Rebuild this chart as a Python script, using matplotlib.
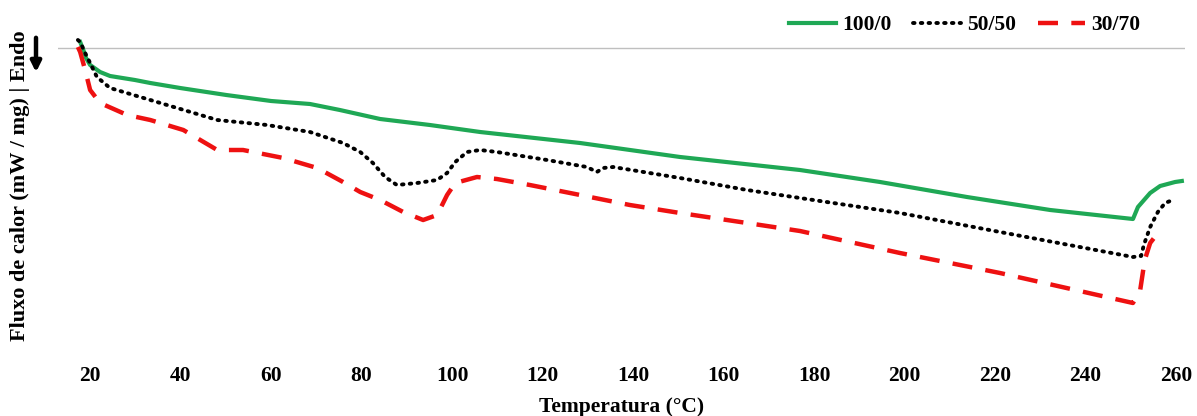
import numpy as np
import matplotlib.pyplot as plt

plt.rcParams['font.family'] = ['Liberation Serif', 'DejaVu Serif']
plt.rcParams['font.weight'] = 'bold'

# -----------------------------
# DSC curves
# -----------------------------
t_100 = [17.8, 18.5, 19.1, 20.0, 22.2, 24.4, 29.9, 33.3, 39.9, 50.1, 60.0, 68.6,
         75.2, 84.1, 95.1, 106.2, 128.3, 150.4, 176.9, 194.6, 213.8, 232.2,
         250.5, 251.6, 254.3, 256.5, 259.8, 261.3]
q_100 = [0.06, -0.02, -0.10, -0.17, -0.24, -0.28, -0.32, -0.35, -0.40, -0.47, -0.53, -0.56,
         -0.62, -0.71, -0.77, -0.84, -0.95, -1.09, -1.22, -1.34, -1.49, -1.62,
         -1.71, -1.59, -1.45, -1.38, -1.34, -1.33]

t_50 = [17.3, 17.8, 18.9, 20.0, 21.5, 24.4, 33.3, 48.1, 59.1, 68.6, 75.9, 79.7,
        82.5, 85.2, 87.8, 92.3, 96.7, 98.9, 100.7, 103.3, 106.2, 109.9, 121.0,
        129.8, 132.0, 133.4, 135.6, 150.4, 165.2, 176.9, 199.0, 221.1, 250.5,
        252.3, 252.9, 254.3, 256.0, 257.6, 259.3]
q_50 = [0.08, 0.06, -0.05, -0.15, -0.29, -0.40, -0.52, -0.72, -0.77, -0.84, -0.95, -1.04,
        -1.15, -1.29, -1.37, -1.35, -1.32, -1.25, -1.14, -1.04, -1.02, -1.04, -1.12,
        -1.19, -1.24, -1.20, -1.19, -1.30, -1.42, -1.50, -1.65, -1.84, -2.09,
        -2.08, -1.97, -1.79, -1.64, -1.55, -1.52]

t_30 = [17.3, 17.8, 18.9, 20.0, 22.2, 28.2, 33.3, 40.6, 48.1, 53.8, 62.7, 70.2,
        75.9, 79.7, 84.1, 89.2, 93.6, 96.7, 98.9, 100.7, 105.5, 109.9, 117.2,
        128.3, 139.3, 150.4, 165.2, 176.9, 199.0, 221.1, 250.5, 252.1, 253.1,
        254.3, 256.0, 256.9]
q_30 = [0.01, -0.04, -0.22, -0.42, -0.55, -0.67, -0.72, -0.82, -1.02, -1.02, -1.10, -1.20,
        -1.34, -1.44, -1.52, -1.64, -1.72, -1.67, -1.47, -1.35, -1.29, -1.31, -1.37,
        -1.47, -1.57, -1.65, -1.75, -1.83, -2.05, -2.25, -2.55, -2.42, -2.12,
        -1.95, -1.85, -1.82]

labels = ["100/0", "50/50", "30/70"]
xticks = list(range(20, 261, 20))

# -----------------------------
# Figure
# -----------------------------
fig = plt.figure(figsize=(11.97, 4.16), dpi=100)
ax = fig.add_axes([58 / 1197, 1 - 356 / 416, (1185 - 58) / 1197, (356 - 30) / 416])

ax.axhline(0, color="#bfbfbf", lw=1.0, zorder=0)

ax.plot(t_100, q_100, color="#1fa855", lw=3.0, label=labels[0])
ax.plot(t_50, q_50, color="black", lw=2.8, linestyle=(0, (0.4, 1.6)),
        dash_capstyle="round", label=labels[1])
ax.plot(t_30, q_30, color="#ee1111", lw=3.2, linestyle=(0, (4.5, 3.0)), label=labels[2])

ax.set_xlim(12.9, 262)
ax.set_ylim(-3.08, 0.18)
ax.set_xticks(xticks)
ax.set_yticks([])
ax.tick_params(axis="x", length=0, pad=7, labelsize=15.5)
for s in ax.spines.values():
    s.set_visible(False)

ax.set_xlabel("Temperatura (°C)", fontsize=15.5, fontweight="bold", labelpad=8)
fig.text(20 / 1197, 1 - 186 / 416, "Fluxo de calor (mW / mg) | Endo",
         rotation=90, ha="center", va="center", fontsize=16, fontweight="bold")

# endo arrow
ax.annotate("", xy=(36, 416 - 75), xytext=(36, 416 - 35),
            xycoords="figure pixels", textcoords="figure pixels",
            arrowprops=dict(arrowstyle="-|>", color="black", lw=3.2,
                            mutation_scale=15))

fig.legend(loc="center right", bbox_to_anchor=(1160 / 1197, 1 - 25 / 416),
           ncol=3, frameon=False, fontsize=15.5, handlelength=2.2,
           columnspacing=1.0, handletextpad=0.3)

fig.savefig("out.png", dpi=100)
